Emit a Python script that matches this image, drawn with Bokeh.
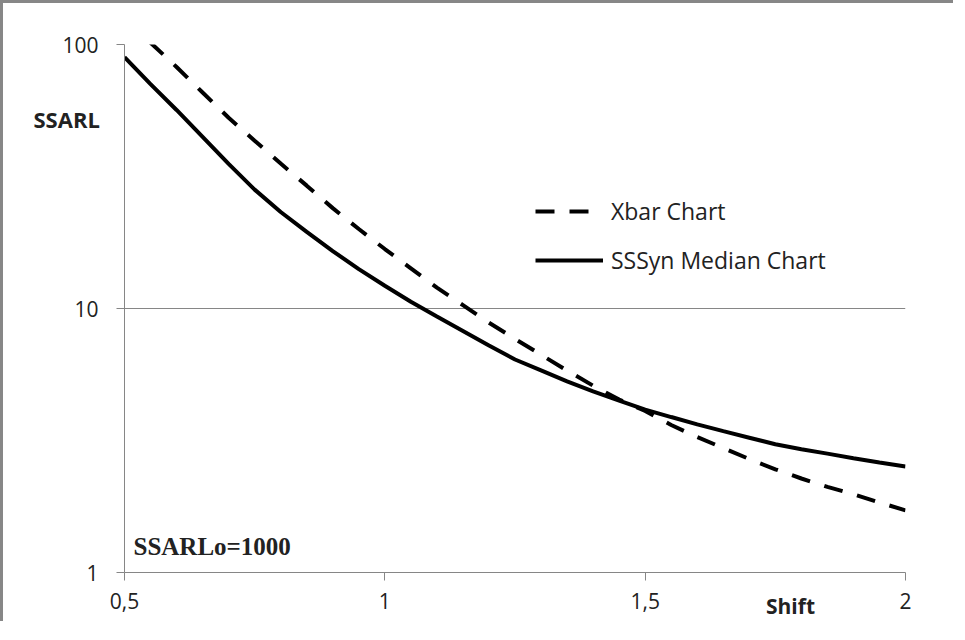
from bokeh.plotting import figure
from bokeh.models import (Range1d, FixedTicker, CustomJSTickFormatter, Legend, LegendItem, Label)
from bokeh.embed import file_html
from bokeh.resources import INLINE

# Data
shift = [0.50, 0.55, 0.60, 0.65, 0.70, 0.75, 0.80, 0.85, 0.90, 0.95, 1.00,
         1.05, 1.10, 1.15, 1.20, 1.25, 1.30, 1.35, 1.40, 1.45, 1.50,
         1.55, 1.60, 1.65, 1.70, 1.75, 1.80, 1.85, 1.90, 1.95, 2.00]
xbar_ssarl = [126, 101.6, 82.2, 65.8, 52.8, 43.2, 35.4, 29.2, 24.0, 20.0, 16.8,
              14.2, 12.0, 10.3, 8.83, 7.67, 6.68, 5.82, 5.10, 4.52, 4.09,
              3.62, 3.26, 2.96, 2.69, 2.46, 2.27, 2.11, 1.98, 1.84, 1.72]
sssyn_ssarl = [89.5, 70.8, 56.5, 44.7, 35.3, 28.2, 23.2, 19.5, 16.5, 14.1, 12.2,
               10.6, 9.33, 8.22, 7.24, 6.41, 5.83, 5.30, 4.85, 4.48, 4.14,
               3.88, 3.64, 3.43, 3.24, 3.06, 2.93, 2.82, 2.71, 2.61, 2.52]
x_ticks = [0.5, 1.0, 1.5, 2.0]
y_ticks = [1, 10, 100]
series_names = ["Xbar Chart", "SSSyn Median Chart"]

GRAY = "#868686"
TXT = "#222222"
FONT = "Open Sans"

p = figure(width=953, height=621, output_backend="svg", toolbar_location=None,
           x_range=Range1d(0.5, 2.0), y_range=Range1d(1, 100), y_axis_type="log",
           min_border_left=121, min_border_right=51, min_border_top=41, min_border_bottom=52)
p.styles = {"border-left": "3px solid #878787", "border-top": "3px solid #878787"}
p.outline_line_color = None
p.background_fill_color = "white"
p.border_fill_color = "white"

p.xgrid.visible = False
p.ygrid.ticker = FixedTicker(ticks=y_ticks)
p.ygrid.grid_line_color = GRAY
p.ygrid.grid_line_width = 1

p.xaxis.ticker = FixedTicker(ticks=x_ticks)
p.yaxis.ticker = FixedTicker(ticks=y_ticks)
p.xaxis.formatter = CustomJSTickFormatter(code="return tick.toString().replace('.', ',');")
p.yaxis.formatter = CustomJSTickFormatter(code="return tick.toFixed(0);")
for ax in (p.xaxis, p.yaxis):
    ax.axis_line_color = GRAY
    ax.major_tick_line_color = GRAY
    ax.major_tick_out = 8
    ax.major_tick_in = 0
    ax.minor_tick_line_color = None
    ax.major_label_text_font = FONT
    ax.major_label_text_font_size = "21px"
    ax.major_label_text_color = TXT
p.xaxis.major_label_standoff = 12
p.yaxis.major_label_standoff = 18

r1 = p.line(shift, xbar_ssarl, line_color="black", line_width=4, line_dash="19 15")
r2 = p.line(shift, sssyn_ssarl, line_color="black", line_width=4)

legend = Legend(items=[LegendItem(label=series_names[0], renderers=[r1]),
                       LegendItem(label=series_names[1], renderers=[r2])],
                location=(411, 296), border_line_color=None, background_fill_alpha=0,
                glyph_width=68, glyph_height=24, label_height=24, spacing=17,
                padding=0, margin=0, label_standoff=8,
                label_text_font=FONT, label_text_font_size="23px", label_text_color=TXT)
p.add_layout(legend, "center")

# axis titles placed in side panels (so they are not clipped to the frame)
p.add_layout(Label(x=-91, y=-74, x_units="screen", y_units="screen", text="SSARL",
                   text_font=FONT, text_font_size="22px", text_font_style="bold", text_color=TXT,
                   text_baseline="middle", text_align="left"), "above")
p.add_layout(Label(x=-115, y=-33, x_units="screen", y_units="screen", text="Shift",
                   text_font=FONT, text_font_size="21px", text_font_style="bold", text_color=TXT,
                   text_baseline="middle", text_align="center"), "right")
p.add_layout(Label(x=9, y=26, x_units="screen", y_units="screen", text="SSARLo=1000",
                   text_font="Liberation Serif", text_font_size="25px", text_font_style="bold",
                   text_color=TXT, text_baseline="middle", text_align="left"))

open("out.html", "w").write(file_html(p, INLINE))
